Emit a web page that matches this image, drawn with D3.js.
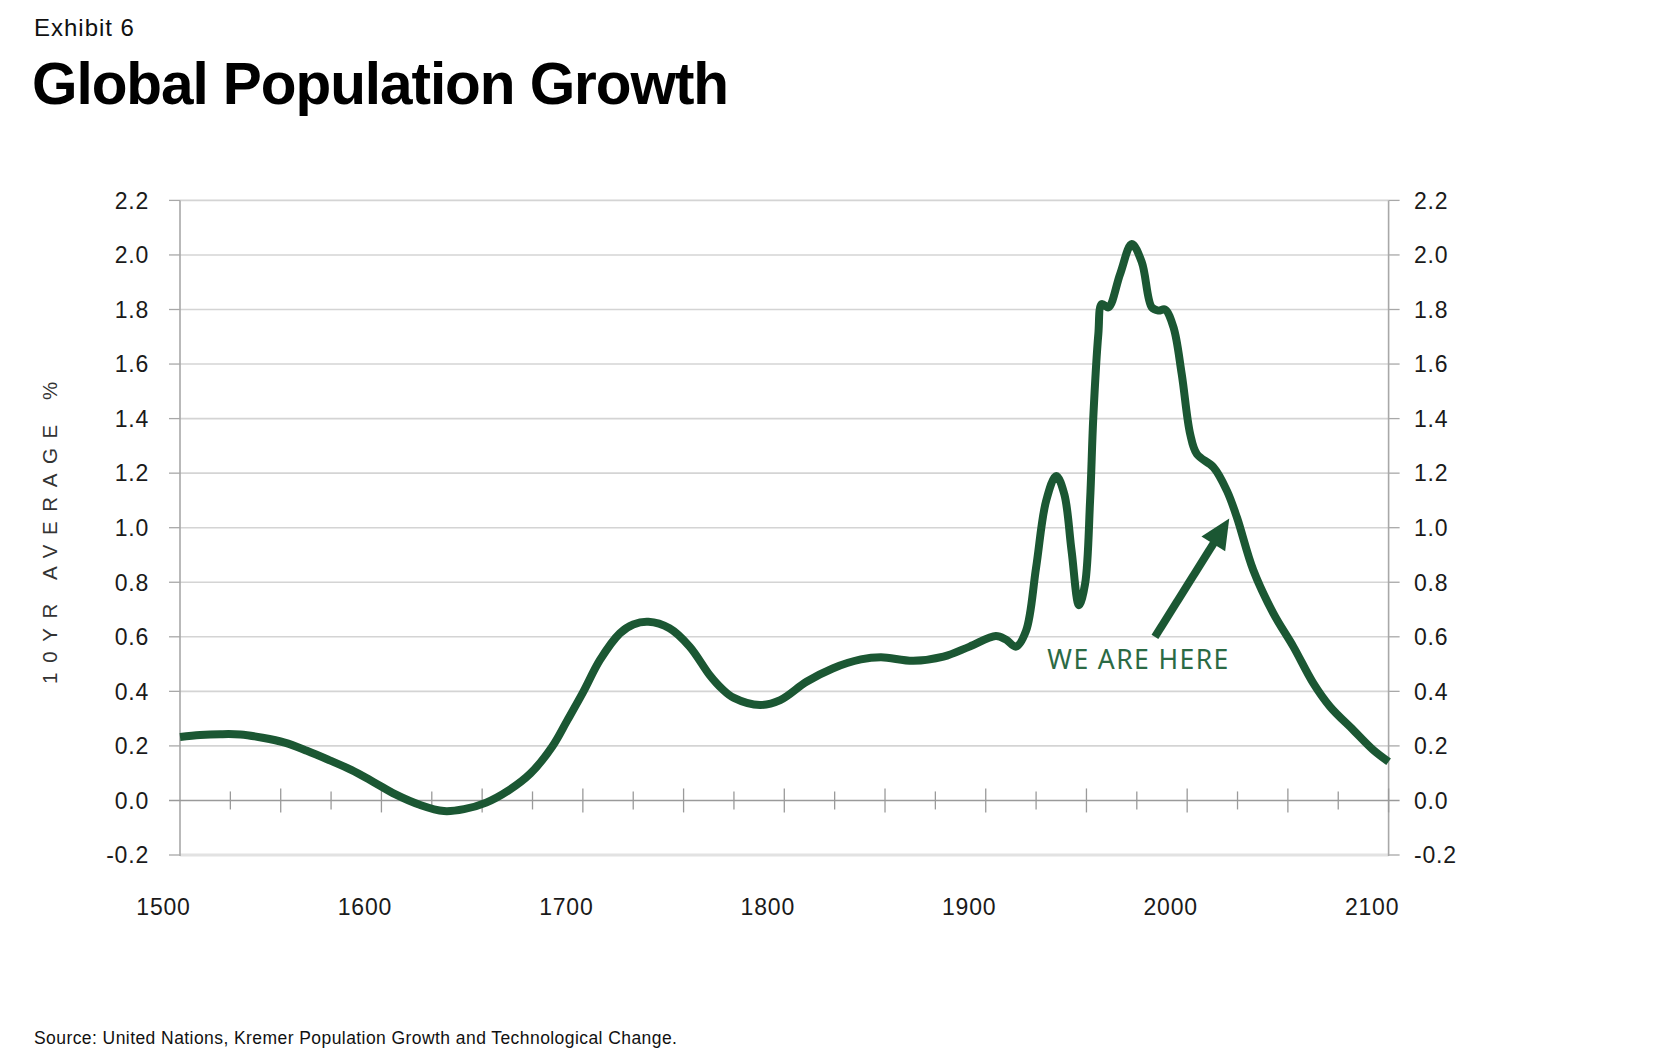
<!DOCTYPE html>
<html>
<head>
<meta charset="utf-8">
<script src="https://cdn.jsdelivr.net/npm/d3@7"></script>
<style>
  html, body { margin: 0; padding: 0; background: #ffffff; }
  svg { display: block; }
</style>
</head>
<body>
<svg id="chart" width="1680" height="1063"></svg>
<script>
// ---------------- DATA ----------------
const years = [1500, 1510, 1520, 1530, 1541, 1552, 1563, 1574, 1585, 1596, 1607, 1619, 1631, 1641, 1652, 1663, 1674, 1685, 1692, 1700,
  1708.5, 1718.4, 1725, 1732.5, 1743, 1753, 1763, 1769, 1775, 1788, 1798, 1811, 1824, 1838, 1848, 1864, 1879, 1892, 1905, 1910, 1915,
  1920, 1925, 1930, 1935, 1939, 1942.6, 1946.3, 1949.3, 1951.8, 1953.4, 1955.9, 1957.6, 1960.9, 1966.7, 1972.5, 1977.5, 1982.4,
  1985.7, 1989, 1993.2, 1997.3, 2001.5, 2004.8, 2013.1, 2019.7, 2024.7, 2032.8, 2042.8, 2052.7, 2062.6, 2070.9, 2082.5, 2092.4, 2100];
const growth = [0.233, 0.240, 0.243, 0.242, 0.230, 0.212, 0.182, 0.148, 0.112, 0.068, 0.022, -0.016, -0.039, -0.032, -0.008, 0.036, 0.099, 0.20, 0.29, 0.395,
  0.515, 0.613, 0.645, 0.655, 0.631, 0.564, 0.459, 0.410, 0.376, 0.350, 0.368, 0.435, 0.484, 0.517, 0.525, 0.512, 0.527, 0.564, 0.603, 0.59, 0.564,
  0.622, 0.854, 1.099, 1.19, 1.123, 0.916, 0.716, 0.793, 1.099, 1.405, 1.71, 1.82, 1.808, 1.93, 2.04, 1.973, 1.808,
  1.796, 1.80, 1.735, 1.563, 1.343, 1.27, 1.221, 1.136, 1.038, 0.845, 0.686, 0.564, 0.43, 0.344, 0.258, 0.185, 0.142];

const yTickValues = [-0.2, 0.0, 0.2, 0.4, 0.6, 0.8, 1.0, 1.2, 1.4, 1.6, 1.8, 2.0, 2.2];
const xLabelYears = [1500, 1600, 1700, 1800, 1900, 2000, 2100];
const xMinorTickYears = [1525, 1550, 1575, 1600, 1625, 1650, 1675, 1700, 1725, 1750, 1775, 1800, 1825, 1850, 1875, 1900,
  1925, 1950, 1975, 2000, 2025, 2050, 2075, 2100];

const exhibitLabel = "Exhibit 6";
const titleText = "Global Population Growth";
const yAxisTitle = "10YR AVERAGE %";
const sourceText = "Source: United Nations, Kremer Population Growth and Technological Change.";
const annotationText = "WE ARE HERE";
const annotationTextAt = [1930.6, 0.482];        // [year, value]
const arrowFrom = [1984.0, 0.600];              // [year, value]
const arrowTo = [2020.9, 1.034];                // [year, value]

// ---------------- LAYOUT ----------------
const W = 1680, H = 1063;
const plot = { left: 180, right: 1388.6, top: 200.4, bottom: 855 };
const green = "#1b5733";
const textGreen = "#2b6a44";
const FONT = "'Liberation Sans', Arial, Helvetica, sans-serif";

const svg = d3.select("#chart");
svg.append("rect").attr("width", W).attr("height", H).attr("fill", "#ffffff");

const x = d3.scaleLinear().domain([1500, 2100]).range([plot.left, plot.right]);
const y = d3.scaleLinear().domain([-0.2, 2.2]).range([plot.bottom, plot.top]);

// helper: adjust letter spacing so text hits target width
function fitSpacing(sel, target) {
  const node = sel.node();
  const w = node.getComputedTextLength();
  const n = sel.text().length;
  const ls = (target - w) / Math.max(1, n - 1);
  sel.attr("letter-spacing", ls.toFixed(2));
}

// ---------------- HEADER ----------------
const ex = svg.append("text").attr("x", 34).attr("y", 35.5)
  .attr("font-family", FONT).attr("font-size", 24).attr("fill", "#111")
  .text(exhibitLabel);
fitSpacing(ex, 100);

const ttl = svg.append("text").attr("x", 32).attr("y", 104)
  .attr("font-family", FONT).attr("font-weight", "bold").attr("font-size", 58.5).attr("fill", "#000")
  .text(titleText);
fitSpacing(ttl, 697);

// ---------------- GRID ----------------
const grid = svg.append("g");
yTickValues.forEach(v => {
  if (v === 0) return;
  const isBottom = v === -0.2;
  grid.append("line")
    .attr("x1", plot.left).attr("x2", plot.right)
    .attr("y1", y(v)).attr("y2", y(v))
    .attr("stroke", isBottom ? "#e2e2e2" : "#d4d4d4")
    .attr("stroke-width", isBottom ? 3 : 1.6);
  grid.append("line").attr("x1", plot.left - 11).attr("x2", plot.left)
    .attr("y1", y(v)).attr("y2", y(v)).attr("stroke", "#a8a8a8").attr("stroke-width", 1.3);
  grid.append("line").attr("x1", plot.right).attr("x2", plot.right + 11)
    .attr("y1", y(v)).attr("y2", y(v)).attr("stroke", "#a8a8a8").attr("stroke-width", 1.3);
});

// vertical axes
[plot.left, plot.right].forEach(px => {
  grid.append("line").attr("x1", px).attr("x2", px)
    .attr("y1", y(2.2)).attr("y2", y(-0.2) + 1)
    .attr("stroke", "#a8a8a8").attr("stroke-width", 1.6);
});

// zero line with crossing ticks
grid.append("line").attr("x1", plot.left - 11).attr("x2", plot.right + 11)
  .attr("y1", y(0)).attr("y2", y(0)).attr("stroke", "#9a9a9a").attr("stroke-width", 1.4);
xMinorTickYears.forEach(yr => {
  const long = yr % 50 === 0;
  const half = long ? 12 : 9;
  grid.append("line").attr("x1", x(yr)).attr("x2", x(yr))
    .attr("y1", y(0) - half).attr("y2", y(0) + half)
    .attr("stroke", "#9a9a9a").attr("stroke-width", 1.3);
});

// ---------------- AXIS LABELS ----------------
const fmt = v => d3.format(".1f")(v).replace("\u2212", "-");
const lab = svg.append("g").attr("font-family", FONT).attr("font-size", 23).attr("fill", "#1a1a1a");
yTickValues.forEach(v => {
  lab.append("text").attr("x", 149).attr("y", y(v)).attr("dy", "0.36em")
    .attr("text-anchor", "end").attr("letter-spacing", 0.8).text(fmt(v));
  lab.append("text").attr("x", 1414).attr("y", y(v)).attr("dy", "0.36em")
    .attr("text-anchor", "start").attr("letter-spacing", 0.8).text(fmt(v));
});
xLabelYears.forEach(yr => {
  lab.append("text").attr("x", x(yr) - 16.5).attr("y", 915)
    .attr("text-anchor", "middle").attr("letter-spacing", 0.8).text(yr);
});

// rotated y-axis title
svg.append("text")
  .attr("transform", "translate(57,528) rotate(-90)")
  .attr("text-anchor", "middle")
  .attr("font-family", FONT).attr("font-size", 20.5).attr("fill", "#333")
  .attr("letter-spacing", 9.6)
  .text(yAxisTitle);

// ---------------- LINE ----------------
const pts = years.map((yr, i) => [yr, growth[i]]);
const line = d3.line().x(d => x(d[0])).y(d => y(d[1])).curve(d3.curveCatmullRom.alpha(0.5));
svg.append("path").datum(pts)
  .attr("d", line)
  .attr("fill", "none").attr("stroke", green).attr("stroke-width", 8)
  .attr("stroke-linejoin", "round").attr("stroke-linecap", "butt");

// ---------------- ANNOTATION ----------------
const ax0 = x(arrowFrom[0]), ay0 = y(arrowFrom[1]);
const ax1 = x(arrowTo[0]), ay1 = y(arrowTo[1]);
const dx = ax1 - ax0, dy = ay1 - ay0, len = Math.hypot(dx, dy);
const ux = dx / len, uy = dy / len;
const headLen = 30, headHalf = 14;
const bx = ax1 - ux * headLen, by = ay1 - uy * headLen;
svg.append("line").attr("x1", ax0).attr("y1", ay0).attr("x2", bx + ux * 2).attr("y2", by + uy * 2)
  .attr("stroke", green).attr("stroke-width", 8);
svg.append("path")
  .attr("d", `M${ax1},${ay1} L${bx - uy * headHalf},${by + ux * headHalf} L${bx + uy * headHalf},${by - ux * headHalf} Z`)
  .attr("fill", green);

const at = svg.append("text").attr("x", x(annotationTextAt[0])).attr("y", y(annotationTextAt[1]))
  .attr("font-family", "'Noto Sans', 'Open Sans', sans-serif").attr("font-size", 26.5).attr("fill", textGreen)
  .text(annotationText);
fitSpacing(at, 181);

// ---------------- SOURCE ----------------
const src = svg.append("text").attr("x", 34).attr("y", 1044)
  .attr("font-family", FONT).attr("font-size", 17.5).attr("fill", "#111")
  .text(sourceText);
fitSpacing(src, 643);
</script>
</body>
</html>
